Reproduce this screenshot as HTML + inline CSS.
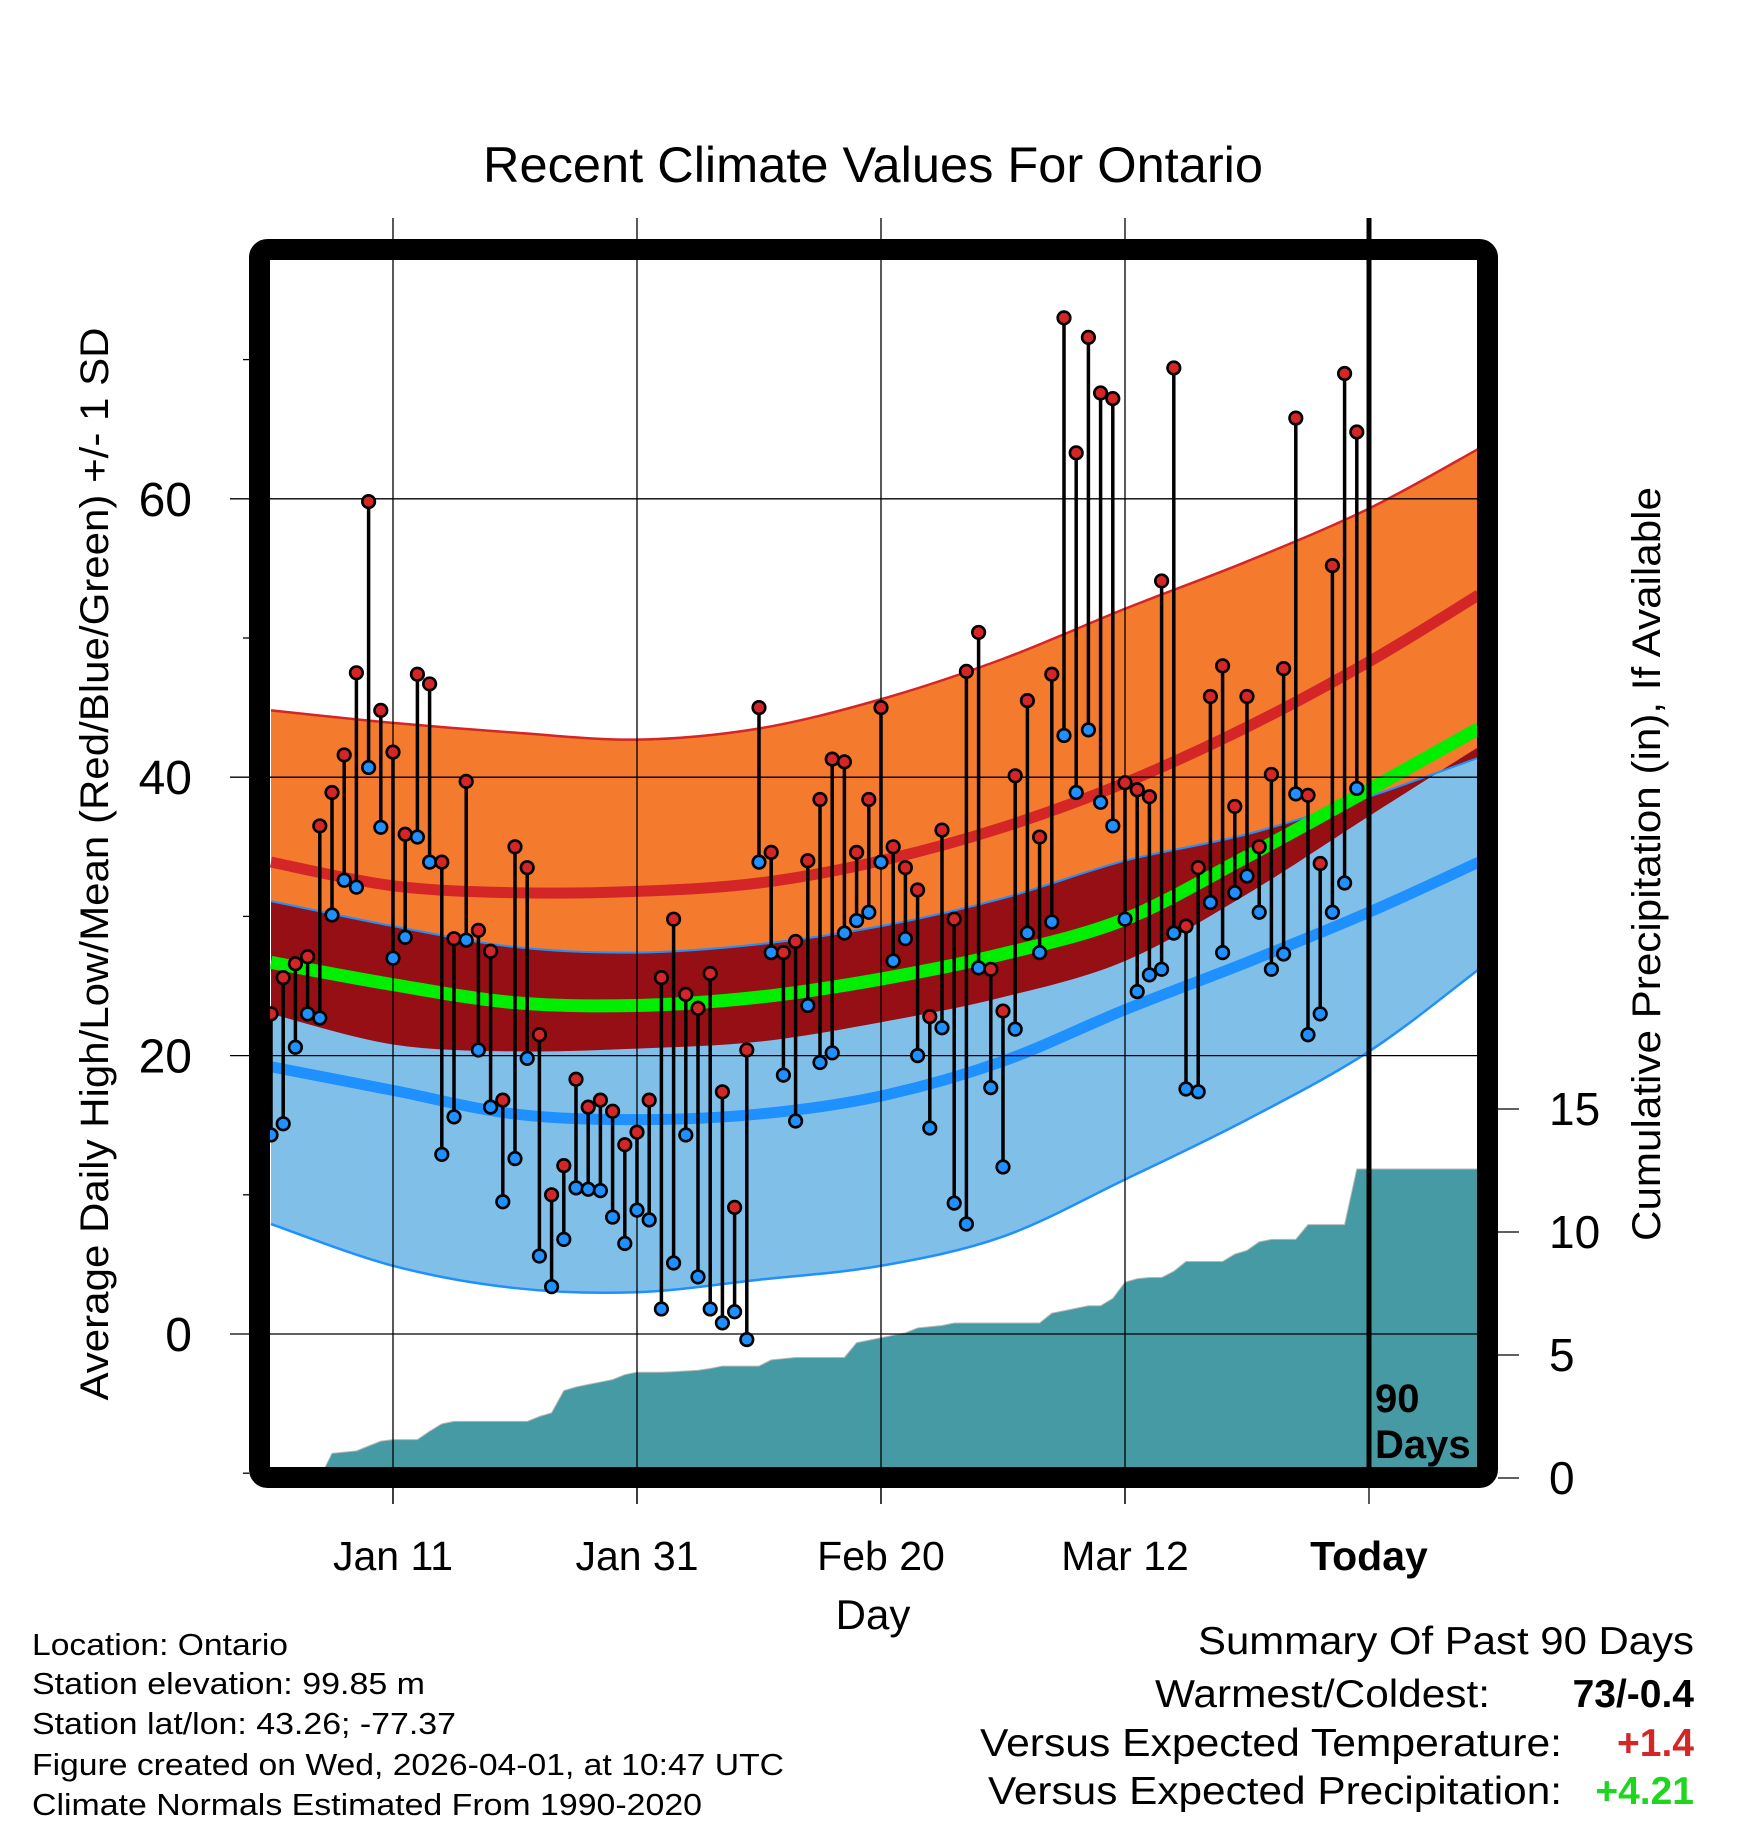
<!DOCTYPE html>
<html><head><meta charset="utf-8"><style>
html,body{margin:0;padding:0;background:#fff;}
svg{display:block;font-family:"Liberation Sans",sans-serif;}
</style></head><body>
<svg id="chart" width="1748" height="1828" viewBox="0 0 1748 1828" xmlns="http://www.w3.org/2000/svg">
<defs><clipPath id="plotclip"><rect x="270" y="260" width="1208" height="1207"/></clipPath></defs>
<text x="873" y="182" font-size="50" text-anchor="middle" textLength="780" lengthAdjust="spacingAndGlyphs">Recent Climate Values For Ontario</text>
<g id="bands" clip-path="url(#plotclip)"></g>
<g id="precip" clip-path="url(#plotclip)"></g>
<g id="grid"></g>
<g id="obs" clip-path="url(#plotclip)"></g>
<rect x="259.5" y="249.5" width="1228" height="1228" fill="none" stroke="#000" stroke-width="21" rx="8"/>
<line id="todayLine" y1="218" y2="1467" stroke="#000" stroke-width="5"/>
<text x="1375" y="1412" font-size="40" font-weight="bold">90</text>
<text x="1375" y="1458" font-size="40" font-weight="bold">Days</text>
<g id="axes"></g>
<text x="873" y="1629" font-size="42" text-anchor="middle">Day</text>
<text transform="translate(108,864) rotate(-90)" font-size="40" text-anchor="middle" textLength="1073" lengthAdjust="spacingAndGlyphs">Average Daily High/Low/Mean (Red/Blue/Green) +/- 1 SD</text>
<text transform="translate(1660,864) rotate(-90)" font-size="40" text-anchor="middle" textLength="754" lengthAdjust="spacingAndGlyphs">Cumulative Precipitation (in), If Available</text>
<g font-size="31">
<text x="32" y="1655" textLength="256" lengthAdjust="spacingAndGlyphs">Location: Ontario</text>
<text x="32" y="1694" textLength="393" lengthAdjust="spacingAndGlyphs">Station elevation: 99.85 m</text>
<text x="32" y="1734" textLength="424" lengthAdjust="spacingAndGlyphs">Station lat/lon: 43.26; -77.37</text>
<text x="32" y="1775" textLength="752" lengthAdjust="spacingAndGlyphs">Figure created on Wed, 2026-04-01, at 10:47 UTC</text>
<text x="32" y="1815" textLength="670" lengthAdjust="spacingAndGlyphs">Climate Normals Estimated From 1990-2020</text>
</g>
<g font-size="39" text-anchor="end">
<text x="1694" y="1654" textLength="496" lengthAdjust="spacingAndGlyphs">Summary Of Past 90 Days</text>
<text x="1490" y="1707" textLength="335" lengthAdjust="spacingAndGlyphs">Warmest/Coldest:</text>
<text x="1694" y="1707" font-weight="bold">73/-0.4</text>
<text x="1562" y="1756" textLength="582" lengthAdjust="spacingAndGlyphs">Versus Expected Temperature:</text>
<text x="1694" y="1756" font-weight="bold" fill="#d42626">+1.4</text>
<text x="1562" y="1804" textLength="574" lengthAdjust="spacingAndGlyphs">Versus Expected Precipitation:</text>
<text x="1694" y="1804" font-weight="bold" fill="#1ed61e">+4.21</text>
</g>
</svg>
<script>
const highs=[23,25.6,26.6,27.1,36.5,38.9,41.6,47.5,59.8,44.8,41.8,35.9,47.4,46.7,33.9,28.4,39.7,29.0,27.5,16.8,35.0,33.5,21.5,10.0,12.1,18.3,16.3,16.8,16.0,13.6,14.5,16.8,25.6,29.8,24.4,23.4,25.9,17.4,9.1,20.4,45.0,34.6,27.4,28.2,34.0,38.4,41.3,41.1,34.6,38.4,45.0,35.0,33.5,31.9,22.8,36.2,29.8,47.6,50.4,26.2,23.2,40.1,45.5,35.7,47.4,73.0,63.3,71.6,67.6,67.2,39.6,39.1,38.6,54.1,69.4,29.3,33.5,45.8,48.0,37.9,45.8,35.0,40.2,47.8,65.8,38.7,33.8,55.2,69.0,64.8];
const lows=[14.3,15.1,20.6,23,22.7,30.1,32.6,32.1,40.7,36.4,27.0,28.5,35.7,33.9,12.9,15.6,28.3,20.4,16.3,9.5,12.6,19.8,5.6,3.4,6.8,10.5,10.4,10.3,8.4,6.5,8.9,8.2,1.8,5.1,14.3,4.1,1.8,0.8,1.6,-0.4,33.9,27.4,18.6,15.3,23.6,19.5,20.2,28.8,29.7,30.3,33.9,26.8,28.4,20.0,14.8,22.0,9.4,7.9,26.3,17.7,12.0,21.9,28.8,27.4,29.6,43.0,38.9,43.4,38.2,36.5,29.8,24.6,25.8,26.2,28.8,17.6,17.4,31.0,27.4,31.7,32.9,30.3,26.2,27.3,38.8,21.5,23.0,30.3,32.4,39.2];
const precip=[0,0,0,0,0,1.0,1.05,1.1,1.3,1.5,1.56,1.56,1.56,1.9,2.2,2.3,2.3,2.3,2.3,2.3,2.3,2.3,2.5,2.65,3.55,3.7,3.8,3.9,4.0,4.2,4.3,4.3,4.3,4.32,4.35,4.38,4.45,4.55,4.55,4.55,4.55,4.8,4.85,4.9,4.9,4.9,4.9,4.9,5.5,5.6,5.7,5.8,5.9,6.1,6.15,6.2,6.3,6.3,6.3,6.3,6.3,6.3,6.3,6.3,6.7,6.8,6.9,7.0,7.0,7.3,7.96,8.1,8.15,8.15,8.4,8.8,8.8,8.8,8.8,9.1,9.25,9.6,9.7,9.7,9.7,10.3,10.3,10.3,10.3,12.56];
const normDays=[0,10,20,30,40,50,60,70,80,90,99];
const highPlus=[44.8,43.9,43.2,42.7,43.5,45.6,48.5,52.1,55.5,59.3,63.6];
const highMean=[33.9,32.2,31.7,31.8,32.4,34.0,36.4,39.6,43.6,48.3,53.1];
const highMinus=[23.0,20.8,20.3,20.5,21.0,22.4,24.2,26.8,31.6,37.2,42.2];
const meanNorm=[26.7,25.1,23.8,23.6,24.2,25.5,27.3,29.8,34.3,39.1,43.5];
const lowPlus=[31.1,29.3,27.8,27.4,28.0,29.3,31.3,34.0,35.9,38.6,41.4];
const lowMean=[19.2,17.5,15.8,15.4,15.8,17.1,19.6,23.3,26.7,30.3,33.9];
const lowMinus=[7.9,4.9,3.3,3.0,3.9,4.9,7.0,11.1,15.4,20.3,26.2];
const xTickDays=[10,30,50,70,90];
const xTickLabels=["Jan 11","Jan 31","Feb 20","Mar 12","Today"];
const yTicks=[0,20,40,60];
const yMinor=[-10,10,30,50,70];
const pTicks=[0,5,10,15];
const NS="http://www.w3.org/2000/svg";
const X=d=>393+(d-10)*12.2;
const Y=v=>1334-v*13.92;
const P=p=>1478-p*24.6;
function mk(tag,attrs,parent){const e=document.createElementNS(NS,tag);for(const k in attrs)e.setAttribute(k,attrs[k]);parent.appendChild(e);return e;}
function pts(vals){return normDays.map((d,i)=>[X(d),Y(vals[i])]);}
function smooth(p){let s="";for(let i=0;i<p.length-1;i++){const p0=p[Math.max(0,i-1)],p1=p[i],p2=p[i+1],p3=p[Math.min(p.length-1,i+2)];
const c1=[p1[0]+(p2[0]-p0[0])/6,p1[1]+(p2[1]-p0[1])/6],c2=[p2[0]-(p3[0]-p1[0])/6,p2[1]-(p3[1]-p1[1])/6];
s+=(i==0?"M"+p1[0]+","+p1[1]:"")+" C"+c1[0]+","+c1[1]+" "+c2[0]+","+c2[1]+" "+p2[0]+","+p2[1];}return s;}
function bandPath(top,bot){const a=smooth(pts(top));const b=smooth(pts(bot).reverse());return a+" L"+b.slice(1)+" Z";}
const bands=document.getElementById('bands');
let e;
e=mk('path',{d:bandPath(highPlus,highMinus),fill:'#f47a2e'},bands);

e=mk('path',{d:bandPath(lowPlus,lowMinus),fill:'#80c0e8'},bands);

e=mk('path',{d:bandPath(lowPlus,highMinus),fill:'#960f14'},bands);

const lines=[[highPlus,'#d42626',2.5,'high-plus-sd-line'],[lowPlus,'#1e90ff',2,'low-plus-sd-line'],[lowMinus,'#1e90ff',2.5,'low-minus-sd-line'],[highMean,'#d42626',11,'high-mean-line'],[lowMean,'#1e90ff',11,'low-mean-line'],[meanNorm,'#00ee00',13,'mean-line']];
lines.forEach(l=>{e=mk('path',{d:smooth(pts(l[0])),fill:'none',stroke:l[1],'stroke-width':l[2]},bands);
});
const pg=document.getElementById('precip');
let pd="M"+X(0)+","+P(0);
precip.forEach((v,i)=>{pd+=" L"+X(i)+","+P(v);});
pd+=" L"+X(99)+","+P(precip[precip.length-1])+" L"+X(99)+","+P(0)+" Z";
e=mk('path',{d:pd,fill:'#469aa3',stroke:'#b8b8b8','stroke-width':1},pg);

const g=document.getElementById('grid');
yTicks.forEach(v=>{e=mk('line',{x1:230,x2:1478,y1:Y(v),y2:Y(v),stroke:'#000','stroke-width':1.3},g);
});
xTickDays.slice(0,4).forEach(d=>{e=mk('line',{x1:X(d),x2:X(d),y1:218,y2:1504,stroke:'#000','stroke-width':1.3},g);
});
document.getElementById('todayLine').setAttribute('x1',X(90));
document.getElementById('todayLine').setAttribute('x2',X(90));
const og=document.getElementById('obs');
highs.forEach((h,i)=>{e=mk('line',{x1:X(i),x2:X(i),y1:Y(h),y2:Y(lows[i]),stroke:'#000','stroke-width':3.5},og);
});
highs.forEach((h,i)=>{e=mk('circle',{cx:X(i),cy:Y(h),r:6.3,fill:'#d42626',stroke:'#000','stroke-width':2.6},og);

e=mk('circle',{cx:X(i),cy:Y(lows[i]),r:6.3,fill:'#1e90ff',stroke:'#000','stroke-width':2.6},og);
});
const ax=document.getElementById('axes');
yTicks.forEach(v=>{e=mk('text',{x:192,y:Y(v)+17,'font-size':48,'text-anchor':'end'},ax);e.textContent=String(v);
});
yMinor.forEach(v=>{e=mk('line',{x1:243,x2:249,y1:Y(v),y2:Y(v),stroke:'#000','stroke-width':1.3},ax);
});
pTicks.forEach(v=>{e=mk('line',{x1:1498,x2:1519,y1:P(v),y2:P(v),stroke:'#000','stroke-width':1.3},ax);

e=mk('text',{x:1549,y:P(v)+16,'font-size':46},ax);e.textContent=String(v);
});
xTickDays.forEach((d,i)=>{e=mk('line',{x1:X(d),x2:X(d),y1:1488,y2:1504,stroke:'#000','stroke-width':1.3},ax);

e=mk('text',{x:X(d),y:1570,'font-size':41,'text-anchor':'middle'},ax);e.textContent=xTickLabels[i];
if(i==4)e.setAttribute('font-weight','bold');
});
</script>
</body></html>
